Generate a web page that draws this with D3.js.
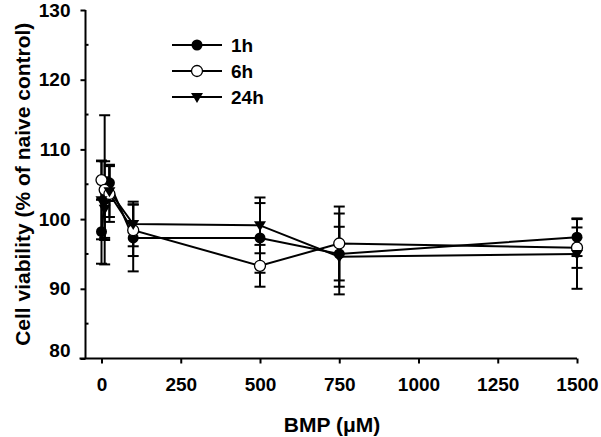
<!DOCTYPE html>
<html><head><meta charset="utf-8">
<script src="https://cdn.jsdelivr.net/npm/d3@7"></script>
<style>body{margin:0;background:#fff}svg{display:block;font-family:"Liberation Sans",Arial,sans-serif;font-weight:bold}</style>
</head><body><div id="chart"></div>
<script>
const concentrations = [0, 10, 25, 100, 500, 750, 1500];
const seriesNames = ["1h", "6h", "24h"];
const values1h  = [98.2, 102.8, 105.2, 97.3, 97.3, 95.0, 97.4];
const errors1h  = [4.6, 5.5, 2.6, 4.8, 5.0, 5.8, 2.7];
const values6h  = [105.6, 104.2, 103.6, 98.4, 93.3, 96.5, 95.9];
const errors6h  = [2.8, 10.7, 4.0, 3.7, 3.0, 5.3, 2.9];
const values24h = [102.7, 101.5, 104.0, 99.3, 99.1, 94.6, 95.0];
const errors24h = [5.6, 4.5, 3.7, 3.2, 4.0, 4.3, 5.0];
const xTicks = [0, 250, 500, 750, 1000, 1250, 1500];
const yTicks = [80, 90, 100, 110, 120, 130];
const yMinorTicks = [85, 95, 105, 115, 125];

const W = 601, H = 437;
const svg = d3.select("#chart").append("svg").attr("width", W).attr("height", H);

const x = d3.scaleLinear().domain([0, 1500]).range([101.5, 577]);
const y = d3.scaleLinear().domain([80, 130]).range([358.5, 10]);

const series = [
  {name: seriesNames[0], vals: values1h, errs: errors1h, marker: "filled"},
  {name: seriesNames[1], vals: values6h, errs: errors6h, marker: "open"},
  {name: seriesNames[2], vals: values24h, errs: errors24h, marker: "tri"}
];

// axes
const yAxis = svg.append("g").attr("transform", `translate(${x.range()[0]-16},0)`)
  .call(d3.axisLeft(y).tickValues(yTicks).tickSize(5).tickPadding(10).tickFormat(d3.format("d")));
const xAxis = svg.append("g").attr("transform", `translate(0,${y(80)})`)
  .call(d3.axisBottom(x).tickValues(xTicks).tickSize(5).tickPadding(14).tickFormat(d3.format("d")));
[yAxis, xAxis].forEach(g => {
  g.selectAll("path.domain").attr("stroke", "#000").attr("stroke-width", 2);
  g.selectAll(".tick line").attr("stroke", "#000").attr("stroke-width", 2);
  g.selectAll("text").attr("font-size", 19).attr("font-weight", "bold").attr("fill", "#000")
    .attr("font-family", '"Liberation Sans",Arial,sans-serif');
});
// lowest y label sits slightly above the x axis, as in the reference
yAxis.selectAll(".tick").filter(d => d === 80).select("text").attr("y", -8);
xAxis.select("path.domain").attr("d", `M${x.range()[0]-22},0H${x.range()[1]}`);
yAxis.select("path.domain").attr("d", `M0,${y(130)}V${y(80)}`);
// minor ticks (inward)
yAxis.selectAll("line.minor").data(yMinorTicks).join("line").attr("class", "minor")
  .attr("x1", 0).attr("x2", 3).attr("y1", d => y(d)).attr("y2", d => y(d))
  .attr("stroke", "#000").attr("stroke-width", 2);

// lines
const line = d3.line().x((d, i) => x(concentrations[i])).y(d => y(d));
const plot = svg.append("g");
series.forEach(s => {
  plot.append("path").attr("d", line(s.vals)).attr("fill", "none")
    .attr("stroke", "#000").attr("stroke-width", 2);
});
// error bars
series.forEach(s => {
  s.vals.forEach((v, i) => {
    const cx = x(concentrations[i]);
    const g = plot.append("g");
    g.append("line").attr("x1", cx).attr("x2", cx).attr("y1", y(v + s.errs[i])).attr("y2", y(v - s.errs[i]))
      .attr("stroke", "#000").attr("stroke-width", 2);
    [v + s.errs[i], v - s.errs[i]].forEach(e => {
      g.append("line").attr("x1", cx - 5.5).attr("x2", cx + 5.5).attr("y1", y(e)).attr("y2", y(e))
        .attr("stroke", "#000").attr("stroke-width", 2);
    });
  });
});
function drawMarker(g, type, cx, cy) {
  if (type === "filled") g.append("circle").attr("cx", cx).attr("cy", cy).attr("r", 5.5).attr("fill", "#000");
  else if (type === "open") g.append("circle").attr("cx", cx).attr("cy", cy).attr("r", 5.5).attr("fill", "#fff").attr("stroke", "#000").attr("stroke-width", 1.3);
  else g.append("path").attr("d", `M${cx-6},${cy-4}L${cx+6},${cy-4}L${cx},${cy+6}Z`).attr("fill", "#000");
}
series.forEach(s => {
  s.vals.forEach((v, i) => drawMarker(plot, s.marker, x(concentrations[i]), y(v)));
});

// legend
const legend = svg.append("g");
series.forEach((s, i) => {
  const ly = 45 + i * 26;
  legend.append("line").attr("x1", 172).attr("x2", 222).attr("y1", ly).attr("y2", ly)
    .attr("stroke", "#000").attr("stroke-width", 2);
  drawMarker(legend, s.marker, 197, ly);
  legend.append("text").attr("x", 231).attr("y", ly).attr("dy", "0.36em")
    .attr("font-size", 19).text(s.name);
});

// titles
svg.append("text").attr("x", 332).attr("y", 424).attr("text-anchor", "middle").attr("dy", "0.36em")
  .attr("font-size", 21).text("BMP (μM)");
svg.append("text").attr("transform", `translate(22,${y(105)}) rotate(-90)`).attr("text-anchor", "middle")
  .attr("dy", "0.36em").attr("font-size", 21).text("Cell viability (% of naive control)");
</script></body></html>
